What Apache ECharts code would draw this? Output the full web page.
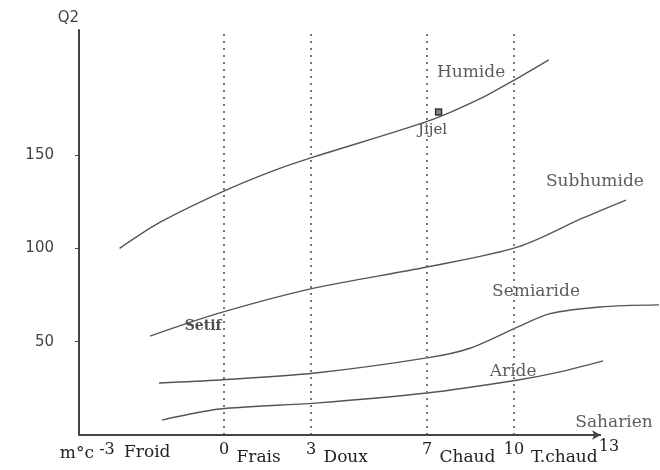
<!DOCTYPE html>
<html>
<head>
<meta charset="utf-8">
<script src="https://cdn.jsdelivr.net/npm/echarts@6/dist/echarts.min.js"></script>
<style>
    html, body { margin: 0; padding: 0; background: #fff; }
    #main { width: 660px; height: 470px; }
</style>
</head>
<body>
<div id="main"></div>
<script>
// courbes limites des étages (x = m en °C, y = Q2)
const humideX = [-3.6, -2.2, -0.1, 1.6, 3.1, 7.0, 8.8, 10.1, 11.2];
const humideY = [100, 114, 130, 141, 149, 168, 180, 191, 201];
const subhumideX = [-2.55, -0.14, 3.14, 7.0, 10.14, 12.38, 13.86];
const subhumideY = [53, 65.4, 78.8, 90, 100.8, 116.3, 125.9];
const semiarideX = [-2.24, -0.14, 3.14, 7.0, 8.48, 10.14, 11.24, 12.97, 15.0];
const semiarideY = [27.9, 29.5, 33.2, 41.3, 46.5, 57.9, 65.0, 68.6, 69.7];
const arideX = [-2.14, -0.14, 3.14, 7.0, 10.14, 11.59, 13.07];
const arideY = [8.0, 13.9, 17.1, 22.5, 29.5, 33.8, 39.7];

// stations
const stations = ["Jijel", "Setif"];
const stationX = [7.4, -0.72];
const stationY = [173, 58];

// noms des étages
const zones = ["Humide", "Subhumide", "Semiaride", "Aride", "Saharien"];
const zoneX = [8.52, 12.79, 10.76, 9.97, 13.45];
const zoneY = [194, 136, 77, 34, 6.4];

// graduations de l'axe des m
const tickValues = [-3, 0, 3, 7, 10, 13];
const tickNumbers = ["-3", "0", "3", "7", "10", "13"];
const tickWords = ["Froid", "Frais", "Doux", "Chaud", "T.chaud", ""];
const dividers = [0, 3, 7, 10];
const yTicks = [50, 100, 150];
const xStart = -5;
const xEnd = 13;

const serif = "DejaVu Serif";
const curveStyle = {color: "#555", width: 1.4};

function pairs(xs, ys) {
    return xs.map((x, i) => [x, ys[i]]);
}

function curve(name, xs, ys) {
    return {
        name: name,
        type: "line",
        smooth: 0.3,
        symbol: "none",
        clip: false,
        lineStyle: curveStyle,
        data: pairs(xs, ys)
    };
}

const chart = echarts.init(document.getElementById("main"), null, {renderer: "canvas"});

let option = {
    animation: false,
    grid: {left: 79, right: 1, top: 30, bottom: 35},
    xAxis: {
        type: "value",
        min: xStart,
        max: 15,
        axisLine: {show: false},
        axisTick: {show: false},
        axisLabel: {show: false},
        splitLine: {show: false}
    },
    yAxis: {
        type: "value",
        min: 0,
        max: 217,
        name: "Q2",
        nameGap: 4,
        nameTextStyle: {
            align: "right",
            verticalAlign: "bottom",
            fontFamily: "DejaVu Sans",
            fontSize: 15,
            color: "#444"
        },
        axisLine: {onZero: false, lineStyle: {color: "#444", width: 2}},
        axisTick: {show: true, length: 4, customValues: yTicks, lineStyle: {color: "#444"}},
        axisLabel: {
            customValues: yTicks,
            margin: 25,
            fontFamily: "DejaVu Sans",
            fontSize: 15,
            color: "#444"
        },
        splitLine: {show: false}
    },
    series: [
        curve("Humide", humideX, humideY),
        curve("Subhumide", subhumideX, subhumideY),
        curve("Semiaride", semiarideX, semiarideY),
        curve("Aride", arideX, arideY),
        {
            name: "stations",
            type: "scatter",
            clip: false,
            symbol: "rect",
            data: stations.map((s, i) => ({
                name: s,
                value: [stationX[i], stationY[i]],
                symbolSize: i === 0 ? 6 : 0,
                label: i === 0
                    ? {position: "bottom", distance: 7, offset: [-6, 0]}
                    : {position: "inside", fontWeight: "bold", fontSize: 14}
            })),
            itemStyle: {color: "#666", borderColor: "#111", borderWidth: 1.5},
            label: {
                show: true,
                formatter: "{b}",
                fontFamily: serif,
                fontSize: 15,
                color: "#222"
            }
        },
        {
            name: "zones",
            type: "scatter",
            clip: false,
            symbolSize: 0,
            data: zones.map((z, i) => ({name: z, value: [zoneX[i], zoneY[i]]})),
            label: {
                show: true,
                position: "inside",
                formatter: "{b}",
                fontFamily: serif,
                fontSize: 17,
                color: "#333"
            }
        },
        {
            name: "axes",
            type: "line",
            data: [],
            markLine: {
                silent: true,
                symbol: "none",
                label: {show: false},
                lineStyle: {color: "#777", width: 2, type: [2, 5]},
                data: dividers.map(v => ({xAxis: v})).concat([
                    // axe des m, avec flèche
                    [
                        {coord: [xStart, 0], symbol: "none", lineStyle: {color: "#444", width: 2, type: "solid"}},
                        {coord: [xEnd, 0], symbol: "arrow", symbolSize: [7, 9]}
                    ]
                ])
            }
        }
    ]
};

chart.setOption(option);

// étiquettes de l'axe horizontal : chiffre + nom de la classe
let graphics = [];
const labelY = 450;
tickValues.forEach((v, i) => {
    let px = chart.convertToPixel({xAxisIndex: 0}, v);
    if (v === -3) px -= 30;
    if (v === 13) px += 8;
    let num = tickNumbers[i];
    graphics.push({
        type: "text",
        x: px,
        y: v === 13 ? labelY - 3 : labelY,
        style: {
            text: num,
            align: "center",
            verticalAlign: "middle",
            font: "16px " + serif,
            fill: "#222"
        }
    });
    if (tickWords[i]) {
        graphics.push({
            type: "text",
            x: px + num.length * 4.5 + 8,
            y: labelY + (v === -3 ? 3 : 8),
            style: {
                text: tickWords[i],
                align: "left",
                verticalAlign: "middle",
                font: "17px " + serif,
                fill: "#222"
            }
        });
    }
    if (v === -3) {
        graphics.push({
            type: "text",
            x: px - 13,
            y: labelY + 4,
            style: {
                text: "m°c",
                align: "right",
                verticalAlign: "middle",
                font: "17px " + serif,
                fill: "#222"
            }
        });
    }
});
chart.setOption({graphic: graphics});
</script>
</body>
</html>
